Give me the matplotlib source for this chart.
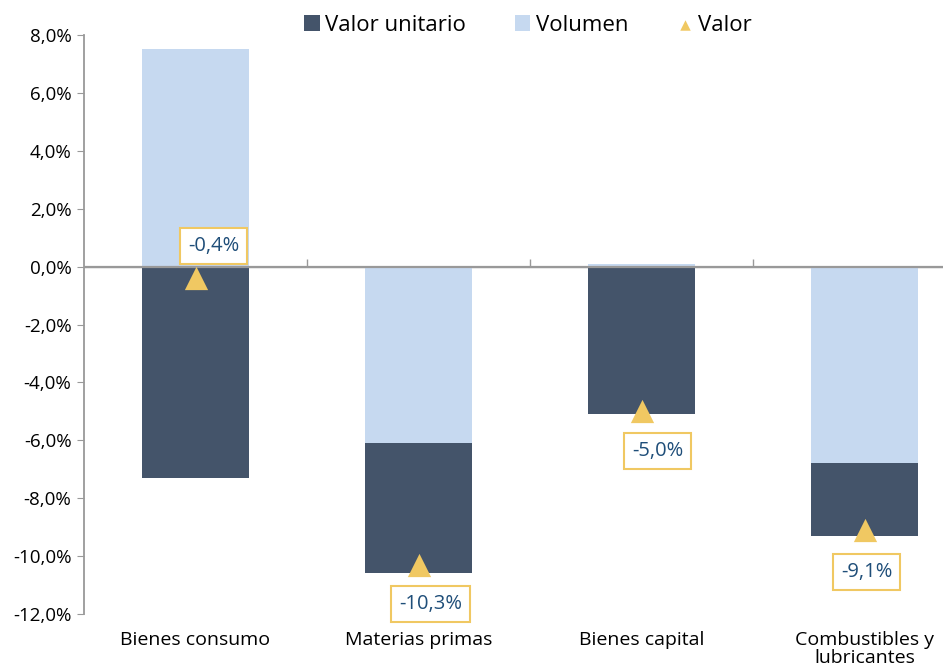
import numpy as np
import matplotlib.pyplot as plt
from matplotlib import rcParams

rcParams['font.family'] = ['Open Sans', 'DejaVu Sans']

# 数据
categorias = ['Bienes consumo', 'Materias primas', 'Bienes capital', 'Combustibles y\nlubricantes']
valor_unitario = [-7.3, -4.5, -5.1, -2.5]
volumen = [7.5, -6.1, 0.1, -6.8]
valor = [-0.4, -10.3, -5.0, -9.1]
etiquetas = ['-0,4%', '-10,3%', '-5,0%', '-9,1%']
yticks = np.arange(-12, 9, 2)

c_dark = '#44546A'
c_light = '#C6D9F0'
c_gold = '#F0C862'
c_text = '#1F4E79'
c_axis = '#999999'

fig = plt.figure(figsize=(9.43, 6.70), dpi=100)
fig.set_facecolor('white')
ax = fig.add_axes([84 / 943, 1 - 614 / 670, 892 / 943, 579 / 670])

x = np.arange(len(categorias))
vol = np.array(volumen)
vu = np.array(valor_unitario)
# Volumen cerca del eje; Valor unitario se apila del mismo signo
bottom_vu = np.where(np.sign(vu) == np.sign(vol), vol, 0)

b_vol = ax.bar(x, vol, width=0.48, color=c_light, label='Volumen', zorder=2)
b_vu = ax.bar(x, vu, width=0.48, bottom=bottom_vu, color=c_dark,
              label='Valor unitario', zorder=2)
sc = ax.scatter(x, valor, marker='^', s=280, color=c_gold, zorder=4, label='Valor',
                linewidths=0)
ax.axhline(0, color=c_axis, lw=1.6, zorder=3)

# etiquetas con recuadro (desplazamiento en píxeles)
offsets = [(18, 32), (12, -39), (16, -40), (2, -42)]
for xi, v, t, (dx, dy) in zip(x, valor, etiquetas, offsets):
    ax.annotate(t, (xi, v), xytext=(dx, dy), textcoords='offset pixels',
                ha='center', va='center', fontsize=14.5, color=c_text, zorder=5,
                bbox=dict(boxstyle='square,pad=0.4', fc='white', ec=c_gold, lw=1.5))

ax.set_xlim(-0.5, 3.5)
ax.set_ylim(-12, 8)
ax.set_yticks(yticks)
ax.set_yticklabels([f'{v:.1f}%'.replace('.', ',') for v in yticks])
ax.set_xticks(x)
ax.set_xticklabels(categorias, linespacing=1.05)

ax.tick_params(axis='y', labelsize=13.5, length=5, color=c_axis, pad=4)
ax.tick_params(axis='x', labelsize=14, length=0, pad=12)

for s in ['top', 'right', 'bottom']:
    ax.spines[s].set_visible(False)
ax.spines['left'].set_color(c_axis)
ax.spines['left'].set_linewidth(1.3)

# separadores de categorías sobre la línea de cero
sec = ax.secondary_xaxis(12 / 20)
sec.set_xticks([0.5, 1.5, 2.5])
sec.set_xticklabels([])
sec.tick_params(length=6, color=c_axis, width=1)
sec.spines['bottom'].set_visible(False)

fig.legend([b_vu, b_vol, sc], ['Valor unitario', 'Volumen', 'Valor'], loc='center',
           bbox_to_anchor=(0.56, 0.962), ncol=3, frameon=False, fontsize=16,
           handlelength=0.7, handleheight=0.7, handletextpad=0.25,
           columnspacing=2.2, markerscale=0.45)

fig.savefig('out.png', dpi=100, facecolor='white')
